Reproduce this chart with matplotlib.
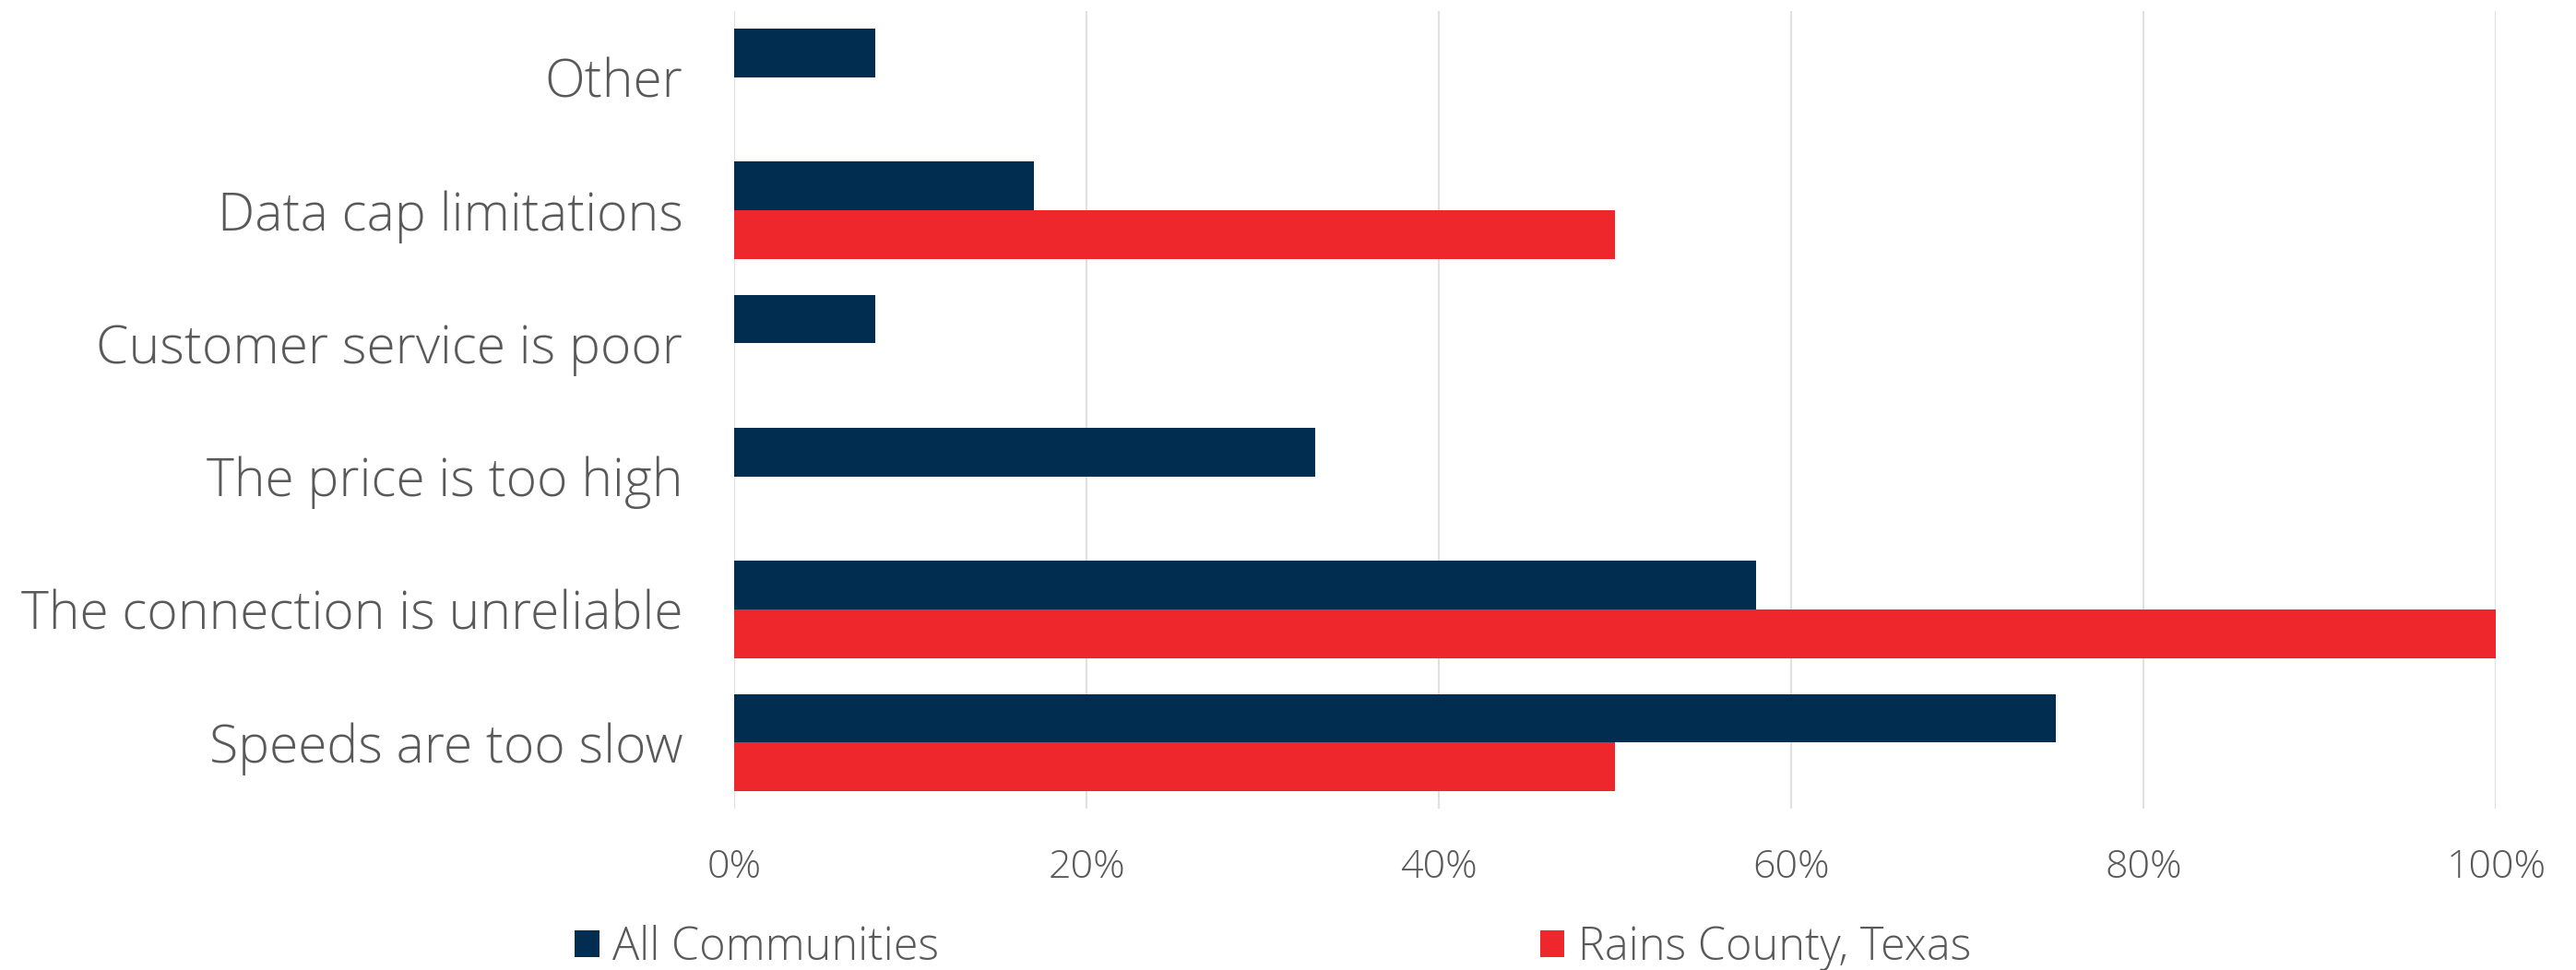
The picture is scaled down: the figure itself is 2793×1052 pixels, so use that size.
import matplotlib.pyplot as plt
import numpy as np
from matplotlib.ticker import PercentFormatter

categories = ["Speeds are too slow", "The connection is unreliable", "The price is too high",
              "Customer service is poor", "Data cap limitations", "Other"]
all_communities = [75, 58, 33, 8, 17, 8]
rains_county = [50, 100, 0, 0, 50, 0]
series_names = ["All Communities", "Rains County, Texas"]
x_ticks = [0, 20, 40, 60, 80, 100]

navy = "#012d51"
red = "#ed272c"
text_grey = "#595959"

plt.rcParams["font.family"] = ["Open Sans", "DejaVu Sans"]
plt.rcParams["font.weight"] = "light"

fig = plt.figure(figsize=(27.93, 10.52), dpi=100)
ax = fig.add_axes([0.285, 0.166, 0.684, 0.823])

y = np.arange(len(categories))
h = 0.365
ax.barh(y + h / 2, all_communities, height=h, color=navy, label=series_names[0], zorder=3)
ax.barh(y - h / 2, rains_county, height=h, color=red, label=series_names[1], zorder=3)

ax.set_xlim(0, 100)
ax.set_ylim(-0.5, len(categories) - 0.5)
ax.set_xticks(x_ticks)
ax.xaxis.set_major_formatter(PercentFormatter(decimals=0))
ax.set_yticks(y)
ax.set_yticklabels(categories)
ax.grid(axis="x", color="#e0e0e0", linewidth=1.5, zorder=0)
for s in ax.spines.values():
    s.set_visible(False)
ax.tick_params(axis="both", length=0, colors=text_grey)
ax.tick_params(axis="y", labelsize=41, pad=40)
ax.tick_params(axis="x", labelsize=31, pad=30)

fig.legend(loc="center left", bbox_to_anchor=(0.223, 0.023), ncol=2, frameon=False,
           fontsize=35, labelcolor=text_grey, handlelength=0.55, handleheight=0.55,
           handletextpad=0.3, columnspacing=13.4, borderpad=0, borderaxespad=0)

fig.savefig("out.png", dpi=100)
